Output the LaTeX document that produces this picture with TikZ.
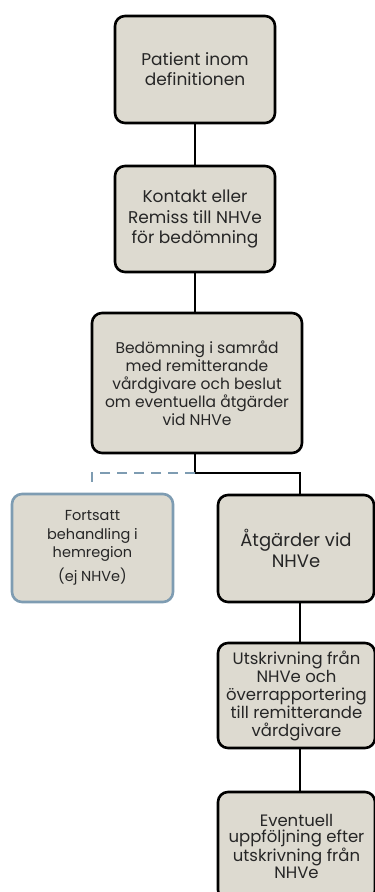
\documentclass[tikz,border=0pt]{standalone}
\usepackage{fontspec}
\setmainfont{Poppins}
\definecolor{boxfill}{HTML}{DDDAD0}
\definecolor{bluegrey}{HTML}{7E9CB2}
\definecolor{txt}{HTML}{262626}
\begin{document}
\begin{tikzpicture}[x=1pt,y=-1pt,
  stepbox/.style={draw=black, line width=2.6pt, fill=boxfill, rounded corners=10pt,
    align=center, inner sep=0pt, text=txt},
  altbox/.style={stepbox, draw=bluegrey},
  conn/.style={line width=2.4pt, black},
  dconn/.style={line width=2.4pt, bluegrey, dash pattern=on 10pt off 7pt}]
\useasboundingbox (0,0) rectangle (375,892);
\node[stepbox, minimum width=160pt, minimum height=107pt,
  font=\fontsize{17}{20}\selectfont] (b1) at (195,69.5) {Patient inom\\definitionen};
\node[stepbox, minimum width=160pt, minimum height=106pt,
  font=\fontsize{17}{20}\selectfont] (b2) at (195,219) {Kontakt eller\\Remiss till NHVe\\för bedömning};
\node[stepbox, minimum width=210pt, minimum height=140pt,
  font=\fontsize{15.5}{18}\selectfont] (b3) at (197,383) {Bedömning i samråd\\med remitterande\\vårdgivare och beslut\\om eventuella åtgärder\\vid NHVe};
\node[altbox, minimum width=161pt, minimum height=108pt,
  font=\fontsize{14.5}{18.5}\selectfont] (b4) at (92.5,548) {Fortsatt\\behandling i\\hemregion\\[5pt](ej NHVe)};
\node[stepbox, minimum width=156pt, minimum height=107pt,
  font=\fontsize{18}{21}\selectfont] (b5) at (296,548.5) {Åtgärder vid\\NHVe};
\node[stepbox, minimum width=157pt, minimum height=105pt,
  font=\fontsize{16.5}{18}\selectfont] (b6) at (296.5,695.5) {Utskrivning från\\NHVe och\\överrapportering\\till remitterande\\vårdgivare};
\node[stepbox, minimum width=157pt, minimum height=108pt,
  font=\fontsize{16.5}{16.5}\selectfont] (b7) at (296.5,846) {Eventuell\\uppföljning efter\\utskrivning från\\NHVe};
\coordinate (split) at (195,473);
\coordinate (r1) at (300,473);
\draw[conn] (b1.south) -- (b2.north);
\draw[conn] (b2.south) -- (b3.north -| b2.south);
\draw[conn] (b3.south -| split) -- (split) -- (r1) -- (b5.north -| r1);
\draw[conn] (b5.south -| r1) -- (b6.north -| r1);
\draw[conn] (b6.south -| r1) -- (b7.north -| r1);
\draw[dconn] (split) -- (92,473) -- (92,483);
\end{tikzpicture}
\end{document}
